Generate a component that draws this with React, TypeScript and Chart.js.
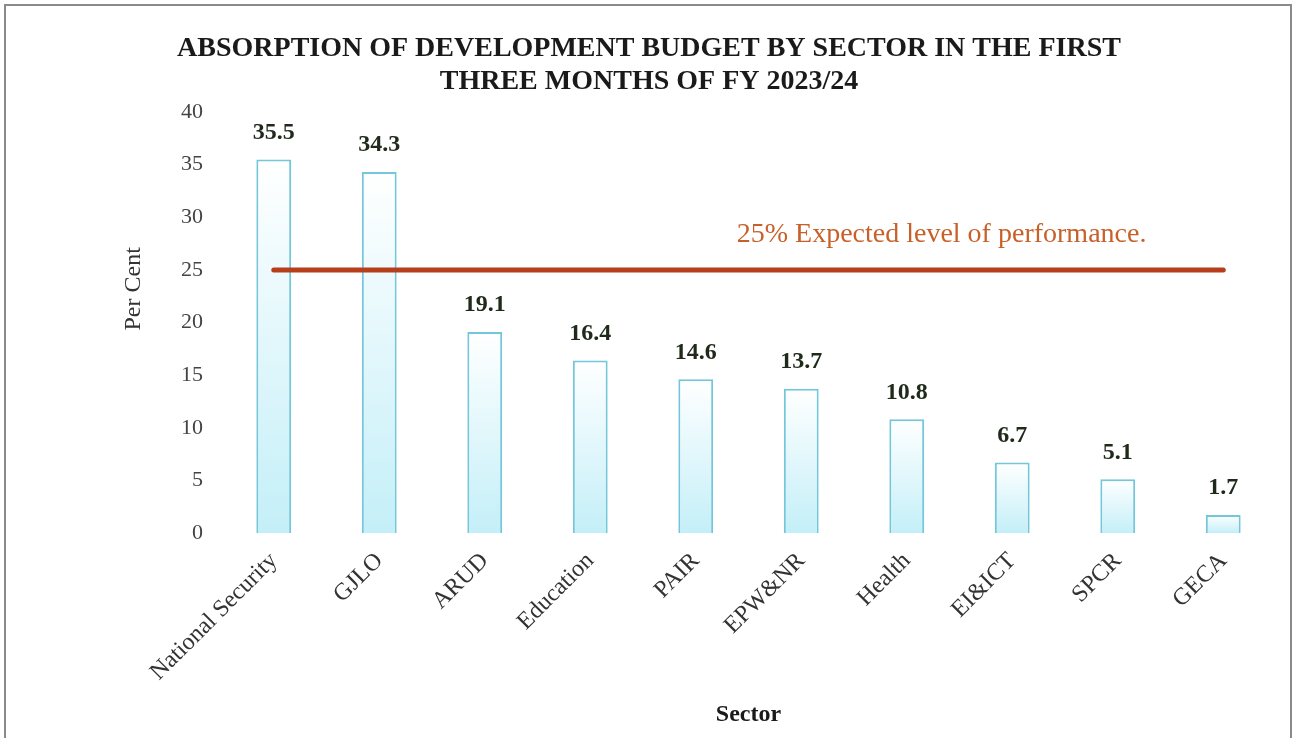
import React, { useEffect, useRef } from "react";
import { Chart, registerables } from "chart.js";

Chart.register(...registerables);

const categories = [
  "National Security",
  "GJLO",
  "ARUD",
  "Education",
  "PAIR",
  "EPW&NR",
  "Health",
  "EI&ICT",
  "SPCR",
  "GECA",
];
const absorption = [35.5, 34.3, 19.1, 16.4, 14.6, 13.7, 10.8, 6.7, 5.1, 1.7];
const expectedLevel = [25, 25, 25, 25, 25, 25, 25, 25, 25, 25];
const expectedLabel = "25% Expected level of performance.";
const titleLines = [
  "ABSORPTION OF DEVELOPMENT BUDGET BY SECTOR IN THE FIRST",
  "THREE MONTHS OF FY 2023/24",
];
const yTitle = "Per Cent";
const xTitle = "Sector";

const SERIF = "'Liberation Serif', 'Times New Roman', serif";
const BAR_INDEX = 1;

export default function App() {
  const canvasRef = useRef<HTMLCanvasElement | null>(null);

  useEffect(() => {
    document.body.style.margin = "0";
    const canvas = canvasRef.current;
    if (!canvas) return;

    const framePlugin = {
      id: "frame",
      beforeDraw(chart: any) {
        const { ctx } = chart;
        ctx.save();
        ctx.fillStyle = "#ffffff";
        ctx.fillRect(0, 0, chart.width, chart.height);
        ctx.strokeStyle = "#8a8a8a";
        ctx.lineWidth = 2;
        ctx.strokeRect(5, 5, chart.width - 9, chart.height - 4);
        ctx.restore();
      },
    };

    const labelPlugin = {
      id: "valueLabels",
      afterDatasetsDraw(chart: any) {
        const { ctx } = chart;
        const meta = chart.getDatasetMeta(BAR_INDEX);
        const xs = chart.scales.x;
        const ys = chart.scales.y;
        ctx.save();
        ctx.font = `bold 24px ${SERIF}`;
        ctx.fillStyle = "#1f2a1a";
        ctx.textAlign = "center";
        ctx.textBaseline = "middle";
        meta.data.forEach((bar: any, i: number) => {
          ctx.fillText(absorption[i].toFixed(1), bar.x, bar.y - 27);
        });
        const step = xs.getPixelForValue(1) - xs.getPixelForValue(0);
        const tx = xs.getPixelForValue(6) + step * 0.33;
        const ty = ys.getPixelForValue(expectedLevel[0]) - 35;
        ctx.font = `28px ${SERIF}`;
        ctx.fillStyle = "#c8602a";
        ctx.fillText(expectedLabel, tx, ty);

        // y-axis title
        ctx.save();
        ctx.translate(134, ys.getPixelForValue(23.2));
        ctx.rotate(-Math.PI / 2);
        ctx.font = `24px ${SERIF}`;
        ctx.fillStyle = "#333333";
        ctx.fillText(yTitle, 0, 0);
        ctx.restore();
        ctx.restore();
      },
    };

    const barFill = (c: any) => {
      const chart = c.chart;
      const ys = chart.scales && chart.scales.y;
      if (!chart.chartArea || !ys || c.raw == null) return "#d8f4f9";
      const base = ys.getPixelForValue(0);
      const top = ys.getPixelForValue(c.raw);
      if (!isFinite(base) || !isFinite(top) || base === top) return "#d8f4f9";
      const g = chart.ctx.createLinearGradient(0, base, 0, top);
      g.addColorStop(0, "#c4eff8");
      g.addColorStop(1, "#ffffff");
      return g;
    };

    const chart = new Chart(canvas, {
      type: "bar",
      data: {
        labels: categories,
        datasets: [
          {
            type: "line",
            label: "Expected",
            data: expectedLevel,
            borderColor: "#b63e1a",
            borderWidth: 5,
            borderCapStyle: "round",
            pointRadius: 0,
            fill: false,
            order: 0,
          } as any,
          {
            type: "bar",
            label: "Absorption",
            data: absorption,
            backgroundColor: barFill,
            borderColor: "#74c6da",
            borderWidth: 2,
            barPercentage: 0.33,
            categoryPercentage: 1,
            order: 1,
          },
        ],
      },
      options: {
        animation: false,
        responsive: true,
        maintainAspectRatio: false,
        layout: { padding: { left: 22, right: 19, top: 0, bottom: 0 } },
        plugins: {
          legend: { display: false },
          tooltip: { enabled: false },
          title: {
            display: true,
            text: titleLines,
            color: "#1a1a1a",
            font: { family: SERIF, size: 28, weight: "bold", lineHeight: 1.18 },
            padding: { top: 32, bottom: 14 },
          },
        },
        scales: {
          x: {
            offset: true,
            grid: { display: false, drawTicks: false },
            border: { display: false },
            ticks: {
              color: "#333333",
              font: { family: SERIF, size: 24 },
              maxRotation: 45,
              minRotation: 45,
              padding: 14,
              autoSkip: false,
            },
            title: {
              display: true,
              text: xTitle,
              color: "#1a1a1a",
              font: { family: SERIF, size: 24, weight: "bold", lineHeight: 1.2 },
              padding: { top: 0, bottom: 9 },
            },
            afterFit(scale: any) {
              scale.height = 205;
            },
          },
          y: {
            min: 0,
            max: 40,
            grid: { display: false, drawTicks: false },
            border: { display: false },
            ticks: {
              stepSize: 5,
              color: "#444444",
              font: { family: SERIF, size: 22 },
              padding: 18,
            },
            title: { display: false },
            afterFit(scale: any) {
              scale.width = 199;
            },
          },
        },
      },
      plugins: [framePlugin, labelPlugin],
    });

    return () => chart.destroy();
  }, []);

  return (
    <div style={{ width: 1295, height: 738, position: "relative" }}>
      <canvas ref={canvasRef} />
    </div>
  );
}
